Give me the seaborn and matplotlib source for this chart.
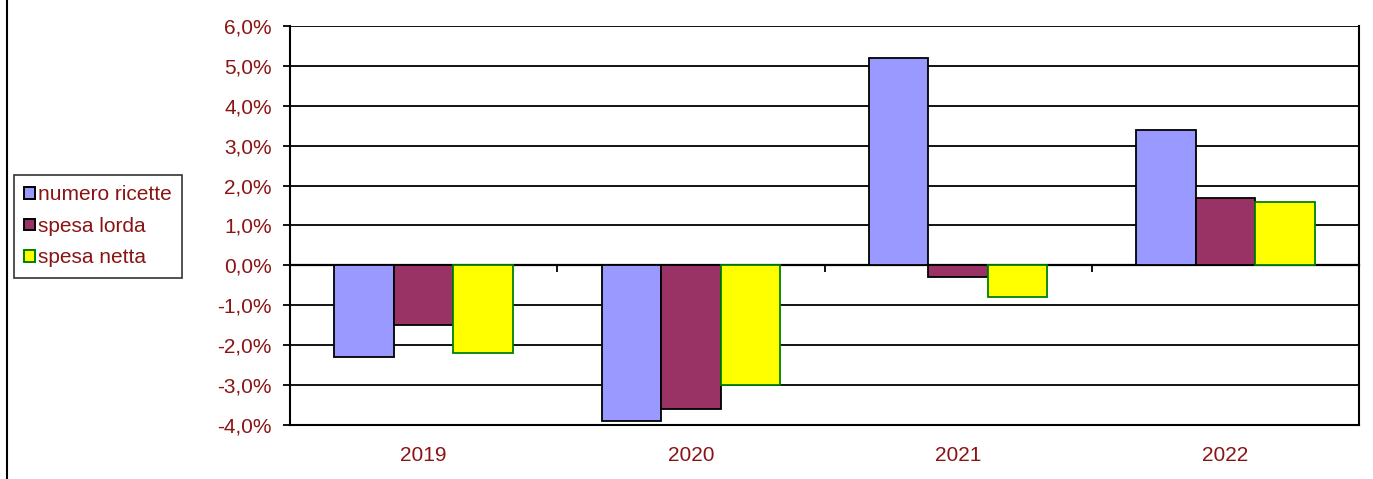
import matplotlib
matplotlib.use("Agg")
import matplotlib.pyplot as plt
import pandas as pd
import seaborn as sns
from matplotlib.lines import Line2D
from matplotlib.ticker import FuncFormatter, MultipleLocator

YEARS = ["2019", "2020", "2021", "2022"]
SERIES = ["numero ricette", "spesa lorda", "spesa netta"]
NUMERO_RICETTE = [-2.3, -3.9, 5.2, 3.4]
SPESA_LORDA = [-1.5, -3.6, -0.3, 1.7]
SPESA_NETTA = [-2.2, -3.0, -0.8, 1.6]

FILL = ["#9999FF", "#993366", "#FFFF00"]
EDGE = ["black", "black", "#008000"]
TEXT = "#8A1414"

data = pd.DataFrame({
    "anno": YEARS * 3,
    "serie": [s for s in SERIES for _ in YEARS],
    "valore": NUMERO_RICETTE + SPESA_LORDA + SPESA_NETTA,
})

sns.set_theme(style="white")
plt.rcParams["font.family"] = ["Liberation Sans", "DejaVu Sans"]

fig = plt.figure(figsize=(13.73, 4.79), dpi=100)
ax = fig.add_axes([290 / 1373, 1 - 425 / 479, (1359 - 290) / 1373, (425 - 26) / 479])

sns.barplot(data=data, x="anno", y="valore", hue="serie", order=YEARS,
            hue_order=SERIES, palette=FILL, saturation=1, width=0.667, ax=ax,
            legend=False)
for container, edge in zip(ax.containers, EDGE):
    for bar in container:
        bar.set_edgecolor(edge)
        bar.set_linewidth(1.3)
        bar.set_zorder(3)

ax.set_ylim(-4, 6)
ax.set_xlim(-0.5, 3.5)
ax.yaxis.set_major_locator(MultipleLocator(1))
ax.yaxis.set_major_formatter(FuncFormatter(lambda v, _: f"{v:.1f}%".replace(".", ",")))
ax.grid(axis="y", color="black", linewidth=1.3, zorder=0)
ax.set_axisbelow(True)
for side in ["left", "right", "bottom"]:
    ax.spines[side].set_visible(True)
    ax.spines[side].set_color("black")
    ax.spines[side].set_linewidth(1.5)
ax.spines["top"].set_visible(False)
ax.set_xlabel("")
ax.set_ylabel("")
ax.tick_params(axis="y", left=True, direction="out", length=5, width=1.3,
               color="black", labelcolor=TEXT, labelsize=15, pad=8)
ax.tick_params(axis="x", bottom=False, labelcolor=TEXT, labelsize=15, pad=9)

# category axis crossing at zero with tick marks between groups
zero_axis = ax.secondary_xaxis(0.4)
zero_axis.set_xticks([0.5, 1.5, 2.5])
zero_axis.set_xticklabels([])
zero_axis.tick_params(direction="out", length=5, width=1.3, color="black")
zero_axis.spines["bottom"].set_linewidth(1.6)
zero_axis.spines["bottom"].set_color("black")

handles = [plt.Rectangle((0, 0), 1, 1, facecolor=f, edgecolor=e, linewidth=1.4)
           for f, e in zip(FILL, EDGE)]
leg = fig.legend(handles, SERIES, loc="upper left",
                 bbox_to_anchor=(14 / 1373, 1 - 175 / 479), fontsize=15,
                 frameon=True, fancybox=False, edgecolor="black",
                 handlelength=0.5, handleheight=0.5, handletextpad=0.15,
                 labelspacing=0.6, borderpad=0.5, borderaxespad=0)
leg.get_frame().set_linewidth(1.2)
for t in leg.get_texts():
    t.set_color(TEXT)

fig.add_artist(Line2D([7 / 1373, 7 / 1373], [0, 1], transform=fig.transFigure,
                      color="black", linewidth=1.5))

fig.savefig("out.png", dpi=100)
